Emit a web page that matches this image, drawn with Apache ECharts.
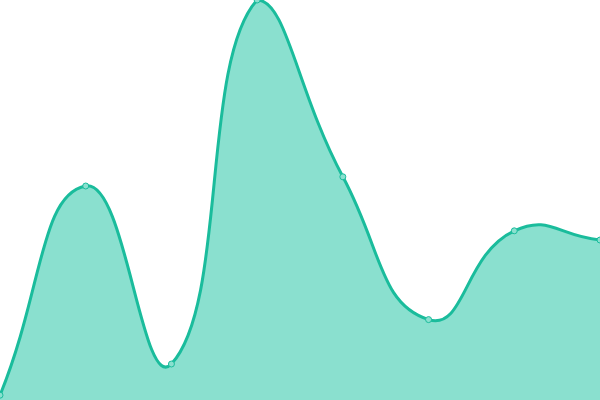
<!DOCTYPE html>
<html>
<head>
<meta charset="utf-8">
<script src="https://cdn.jsdelivr.net/npm/echarts@6/dist/echarts.min.js"></script>
<style>
  html, body { margin: 0; padding: 0; background: #fff; }
  #chart { width: 600px; height: 400px; }
</style>
</head>
<body>
<div id="chart"></div>
<script>
// values
var categories = ['1', '2', '3', '4', '5', '6', '7', '8'];
var values = [1.2, 53.5, 9, 100, 55.8, 20.1, 42.3, 40];

var smooth = 0.5;

// control points like the older smoothing: may overshoot a point,
// but stays inside the box of all points
function smoothPath(pts) {
    var minX = Infinity, minY = Infinity, maxX = -Infinity, maxY = -Infinity;
    pts.forEach(function (p) {
        minX = Math.min(minX, p[0]); maxX = Math.max(maxX, p[0]);
        minY = Math.min(minY, p[1]); maxY = Math.max(maxY, p[1]);
    });
    function clamp(p) {
        return [Math.min(maxX, Math.max(minX, p[0])), Math.min(maxY, Math.max(minY, p[1]))];
    }
    var cps = [];
    for (var i = 0; i < pts.length; i++) {
        var prev = pts[i - 1] || pts[i];
        var next = pts[i + 1] || pts[i];
        var cur = pts[i];
        var vx = next[0] - prev[0], vy = next[1] - prev[1];
        var d0 = Math.sqrt(Math.pow(cur[0] - prev[0], 2) + Math.pow(cur[1] - prev[1], 2));
        var d1 = Math.sqrt(Math.pow(next[0] - cur[0], 2) + Math.pow(next[1] - cur[1], 2));
        var sum = d0 + d1 || 1;
        cps.push({
            before: clamp([cur[0] - vx * smooth * d0 / sum, cur[1] - vy * smooth * d0 / sum]),
            after: clamp([cur[0] + vx * smooth * d1 / sum, cur[1] + vy * smooth * d1 / sum])
        });
    }
    var d = 'M' + pts[0][0] + ' ' + pts[0][1];
    for (var j = 1; j < pts.length; j++) {
        var a = cps[j - 1].after, b = cps[j].before;
        d += ' C' + a[0] + ' ' + a[1] + ' ' + b[0] + ' ' + b[1] + ' ' + pts[j][0] + ' ' + pts[j][1];
    }
    return d;
}

var myChart = echarts.init(document.getElementById('chart'));

var option = {
    animation: false,
    grid: { left: 0, right: 0, top: 0, bottom: 0 },
    xAxis: {
        type: 'category',
        boundaryGap: false,
        data: categories,
        show: false
    },
    yAxis: {
        type: 'value',
        min: 0,
        max: 100,
        show: false
    },
    series: [{
        type: 'custom',
        data: [[0, 0]],
        silent: true,
        renderItem: function (params, api) {
            var pts = values.map(function (v, i) { return api.coord([i, v]); });
            var base = api.coord([0, 0])[1];
            var line = smoothPath(pts);
            var area = line + ' L' + pts[pts.length - 1][0] + ' ' + base +
                ' L' + pts[0][0] + ' ' + base + ' Z';
            return {
                type: 'group',
                children: [{
                    type: 'path',
                    shape: { pathData: area },
                    style: { fill: '#8ae0cf', stroke: null }
                }, {
                    type: 'path',
                    shape: { pathData: line },
                    style: { fill: null, stroke: '#1abc9c', lineWidth: 3 }
                }]
            };
        }
    }, {
        type: 'line',
        data: values,
        symbol: 'circle',
        symbolSize: 6,
        itemStyle: {
            color: '#8ae0cf',
            borderColor: '#1abc9c',
            borderWidth: 1
        },
        lineStyle: { width: 0 },
        z: 3
    }]
};
myChart.setOption(option);
</script>
</body>
</html>
